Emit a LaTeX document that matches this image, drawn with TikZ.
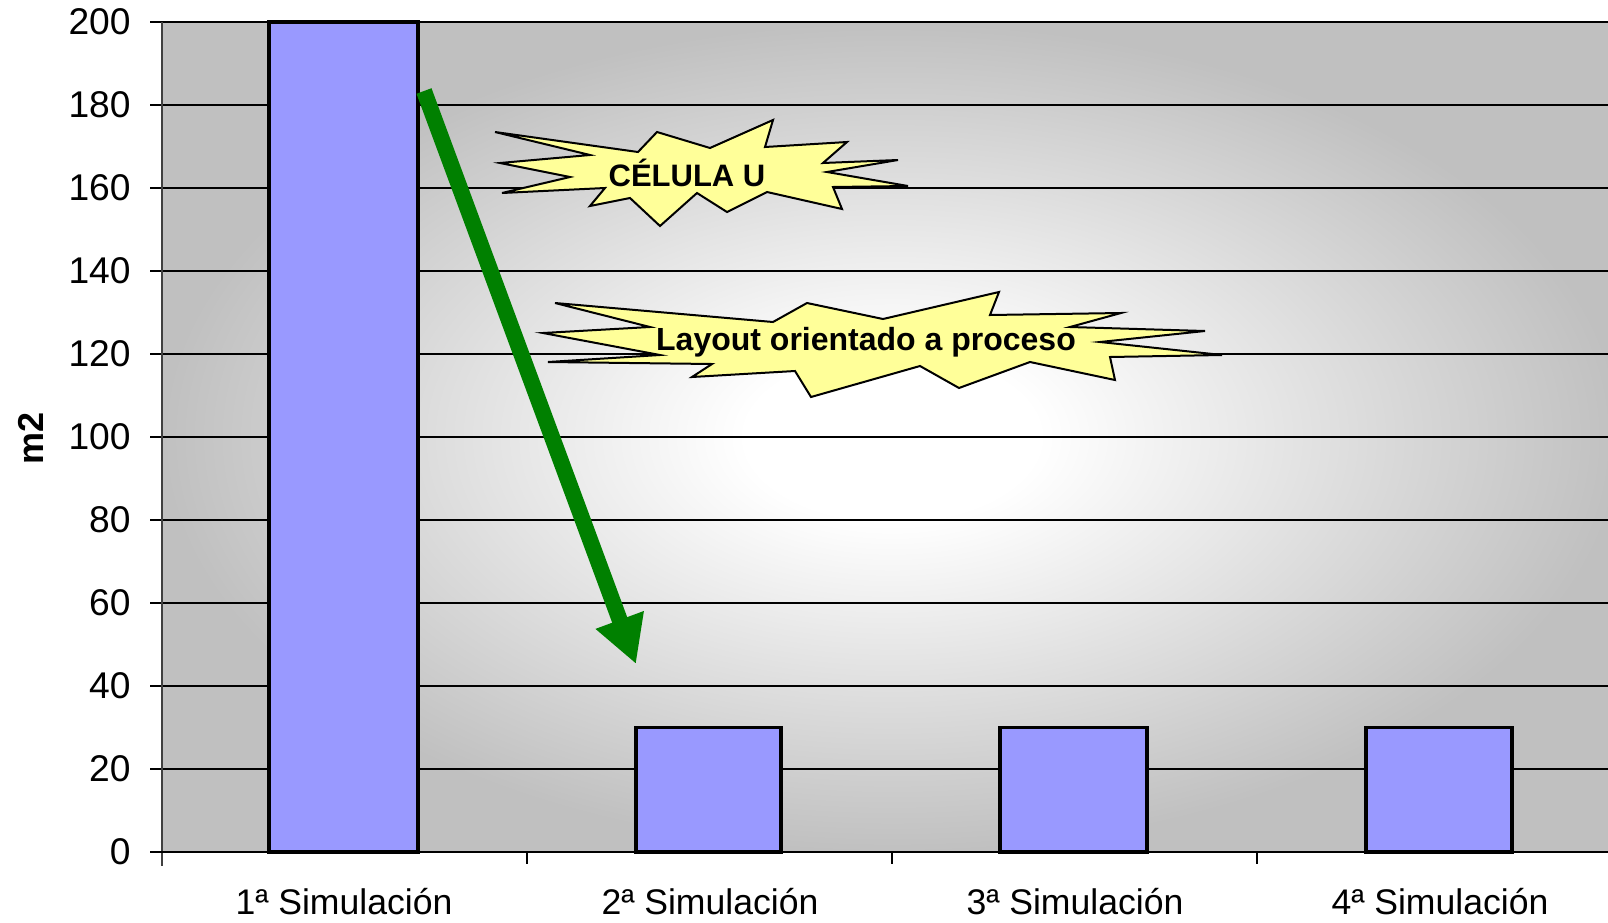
\documentclass[tikz,border=0pt]{standalone}
\usepackage{fontspec}
\setmainfont{Liberation Sans}
\usetikzlibrary{arrows.meta}
\definecolor{barblue}{HTML}{9999FF}
\definecolor{bggray}{HTML}{C0C0C0}
\definecolor{arrgreen}{HTML}{008000}
\definecolor{staryellow}{HTML}{FFFF99}
\definecolor{axisgray}{HTML}{404040}
\pgfdeclareradialshading{plotbg}{\pgfpoint{0bp}{0bp}}{color(0bp)=(white); color(5bp)=(white); color(25bp)=(bggray); color(50bp)=(bggray)}
\begin{document}
\begin{tikzpicture}[x=0.5pt,y=-0.5pt,
  gridline/.style={black,line width=0.6pt},
  barbox/.style={fill=barblue,draw=black,line width=1.6pt},
  ylab/.style={anchor=east,font=\fontsize{18.6}{20}\selectfont,inner sep=0pt},
  xlab/.style={anchor=center,font=\fontsize{17.8}{20}\selectfont,inner sep=0pt},
  starshape/.style={fill=staryellow,draw=black,line width=1pt,line join=miter},
  startext/.style={font=\bfseries\fontsize{15.5}{17}\selectfont,inner sep=0pt},
  bigarrow/.style={draw=arrgreen,line width=8pt,-{Triangle[length=23.5pt,width=24pt]},arrgreen}]
\useasboundingbox (0,0) rectangle (1608,922);
\clip (0,0) rectangle (1608,922);
\fill[white] (0,0) rectangle (1608,922);
% plot area background
\shade[shading=plotbg] (162,22) rectangle (1622,852);
% gridlines and y labels
\foreach \v/\nm in {0/a,20/b,40/c,60/d,80/e,100/f,120/g,140/h,160/i,180/j,200/k}{
  \pgfmathsetmacro{\yy}{852-4.15*\v}
  \draw[gridline] (150,\yy) -- (1622,\yy);
  \node[ylab] (ylab\nm) at (131,\yy) {\v};
}
% bars
\draw[barbox] (269,852) rectangle (418,22);
\draw[barbox] (636,852) rectangle (781,727.5);
\draw[barbox] (1000,852) rectangle (1147,727.5);
\draw[barbox] (1366,852) rectangle (1512,727.5);
% axes
\draw[axisgray,line width=1pt] (162,22) -- (162,866);
\draw[black,line width=1pt] (150,852) -- (1622,852);
\foreach \xx in {527,892,1257}{
  \draw[black,line width=0.8pt] (\xx,852) -- (\xx,864);
}
% category labels
\node[xlab] (c1) at (344,902) {1ª Simulación};
\node[xlab] (c2) at (710,902) {2ª Simulación};
\node[xlab] (c3) at (1075,902) {3ª Simulación};
\node[xlab] (c4) at (1440,902) {4ª Simulación};
% axis title
\node[rotate=90,font=\bfseries\fontsize{18}{20}\selectfont,inner sep=0pt] (ytitle) at (31,438) {m2};
% arrow
\coordinate (arrS) at (424,91);
\coordinate (arrE) at (636,664);
\draw[bigarrow] (arrS) -- (arrE);
% star 1
\filldraw[starshape] (495,132) -- (638,152) -- (657,132) -- (710,148) -- (773,120) -- (765,147) -- (847,142) -- (823,163) -- (898,160) -- (827,172) -- (908,186) -- (833,187) -- (842,209) -- (767,192) -- (727,212) -- (697,193) -- (660,226) -- (630,198) -- (590,206) -- (605,188) -- (502,193) -- (570,177) -- (500,163) -- (590,155) -- cycle;
\node[startext] (t1) at (687,173) {CÉLULA U};
% star 2
\filldraw[starshape] (555,303) -- (773,322) -- (807,303) -- (883,319) -- (999,292) -- (990,315) -- (1121,313) -- (1070,327) -- (1205,331) -- (1100,342) -- (1222,355) -- (1110,357) -- (1115,380) -- (1030,362) -- (959,388) -- (920,366) -- (811,397) -- (795,371) -- (692,377) -- (712,364) -- (548,362) -- (660,355) -- (543,333) -- (650,327) -- cycle;
\node[startext,font=\bfseries\fontsize{16}{18}\selectfont] (t2) at (866,342) {Layout orientado a proceso};
\end{tikzpicture}
\end{document}
